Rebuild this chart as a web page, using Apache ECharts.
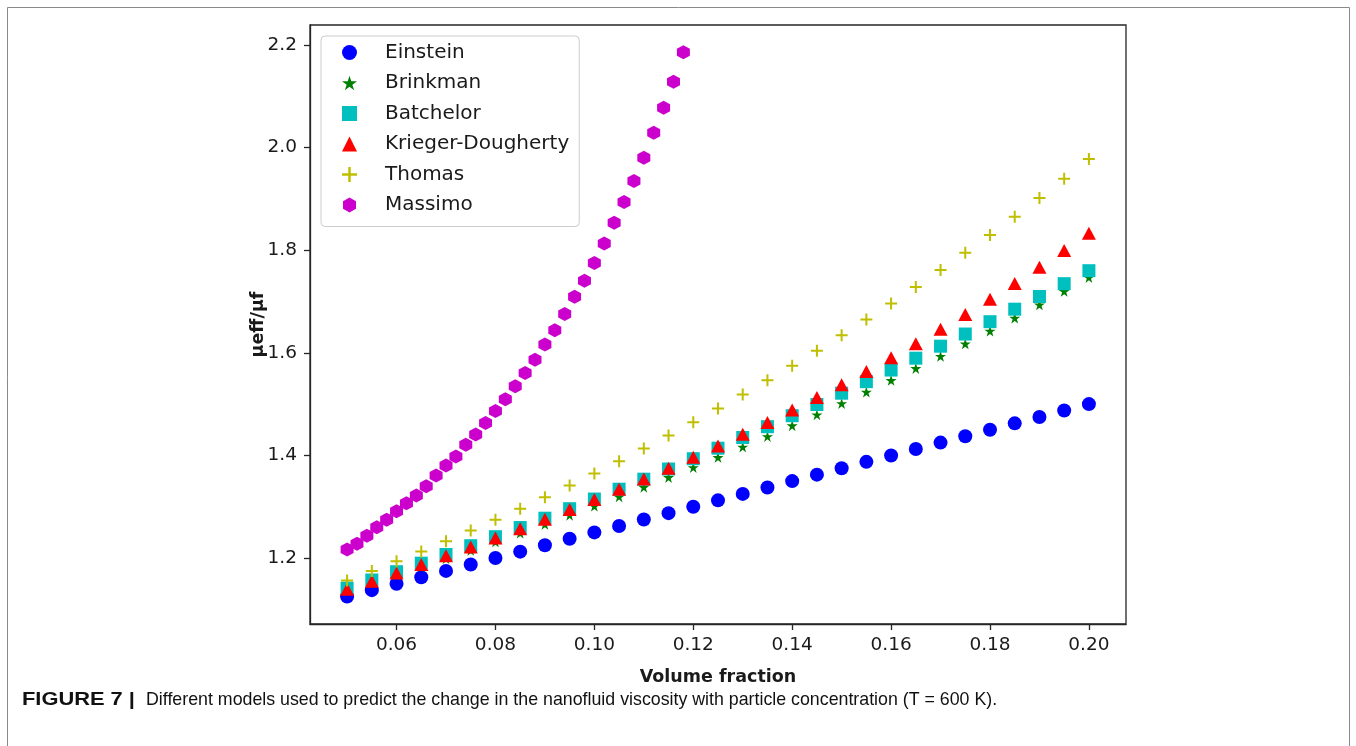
<!DOCTYPE html>
<html lang="en">
<head>
    <meta charset="UTF-8">
    <title>Nanofluid viscosity models</title>
    <script src="https://cdn.jsdelivr.net/npm/echarts@6.0.0/dist/echarts.min.js"></script>
    <style>
        html, body { margin: 0; padding: 0; background: #fff; }
        #main { width: 1356px; height: 746px; }
    </style>
</head>
<body>
    <div id="main"></div>
    <script type="text/javascript">
        // volume fraction (x) for most models, step 0.005
        const volumeFraction = [0.05, 0.055, 0.06, 0.065, 0.07, 0.075, 0.08, 0.085, 0.09, 0.095,
            0.10, 0.105, 0.11, 0.115, 0.12, 0.125, 0.13, 0.135, 0.14, 0.145,
            0.15, 0.155, 0.16, 0.165, 0.17, 0.175, 0.18, 0.185, 0.19, 0.195, 0.20];
        // Massimo is sampled more finely and stops early
        const massimoFraction = [0.050, 0.052, 0.054, 0.056, 0.058, 0.060, 0.062, 0.064, 0.066, 0.068,
            0.070, 0.072, 0.074, 0.076, 0.078, 0.080, 0.082, 0.084, 0.086, 0.088,
            0.090, 0.092, 0.094, 0.096, 0.098, 0.100, 0.102, 0.104, 0.106, 0.108,
            0.110, 0.112, 0.114, 0.116, 0.118];

        const einstein = [1.125, 1.1375, 1.15, 1.1625, 1.175, 1.1875, 1.2, 1.2125, 1.225, 1.2375,
            1.25, 1.2625, 1.275, 1.2875, 1.3, 1.3125, 1.325, 1.3375, 1.35, 1.3625,
            1.375, 1.3875, 1.4, 1.4125, 1.425, 1.4375, 1.45, 1.4625, 1.475, 1.4875, 1.5];
        const brinkman = [1.1368, 1.1519, 1.1673, 1.1830, 1.1989, 1.2152, 1.2318, 1.2487, 1.2659, 1.2835,
            1.3014, 1.3196, 1.3382, 1.3572, 1.3766, 1.3963, 1.4165, 1.4370, 1.4580, 1.4794,
            1.5013, 1.5236, 1.5463, 1.5696, 1.5933, 1.6176, 1.6424, 1.6677, 1.6935, 1.7200, 1.7469];
        const batchelor = [1.1413, 1.1572, 1.1734, 1.1900, 1.2069, 1.2241, 1.2416, 1.2595, 1.2777, 1.2962,
            1.3150, 1.3342, 1.3537, 1.3735, 1.3936, 1.4141, 1.4349, 1.4560, 1.4774, 1.4992,
            1.5213, 1.5437, 1.5664, 1.5895, 1.6129, 1.6366, 1.6606, 1.6850, 1.7097, 1.7347, 1.7600];
        const kriegerDougherty = [1.1393, 1.1550, 1.1711, 1.1875, 1.2043, 1.2215, 1.2391, 1.2571, 1.2756, 1.2946,
            1.3140, 1.3339, 1.3543, 1.3752, 1.3966, 1.4186, 1.4412, 1.4644, 1.4883, 1.5127,
            1.5379, 1.5637, 1.5903, 1.6176, 1.6458, 1.6747, 1.7045, 1.7352, 1.7668, 1.7993, 1.8329];
        const thomas = [1.1564, 1.1747, 1.1936, 1.2130, 1.2330, 1.2535, 1.2746, 1.2963, 1.3186, 1.3414,
            1.3649, 1.3889, 1.4136, 1.4388, 1.4647, 1.4913, 1.5185, 1.5463, 1.5749, 1.6041,
            1.6341, 1.6647, 1.6962, 1.7284, 1.7613, 1.7951, 1.8298, 1.8653, 1.9018, 1.9391, 1.9775];
        const massimo = [1.2166, 1.2277, 1.2433, 1.2601, 1.2745, 1.2913, 1.3069, 1.3220, 1.3401, 1.3610,
            1.3805, 1.3980, 1.4209, 1.4410, 1.4630, 1.4864, 1.5093, 1.5346, 1.5606, 1.5867,
            1.6160, 1.6439, 1.6757, 1.7093, 1.7405, 1.7752, 1.8131, 1.8533, 1.8937, 1.9346,
            1.9801, 2.0287, 2.0777, 2.1284, 2.1857];

        const xTicks = [0.06, 0.08, 0.10, 0.12, 0.14, 0.16, 0.18, 0.20];
        const yTicks = [1.2, 1.4, 1.6, 1.8, 2.0, 2.2];

        // marker shapes (matplotlib-like)
        const starPath = 'path://M0,-1L0.2245,-0.309L0.951,-0.309L0.3633,0.118L0.588,0.809L0,0.382L-0.588,0.809L-0.3633,0.118L-0.951,-0.309L-0.2245,-0.309Z';
        const plusPath = 'path://M-1,-6L1,-6L1,-1L6,-1L6,1L1,1L1,6L-1,6L-1,1L-6,1L-6,-1L-1,-1Z';
        const hexPath = 'path://M0,-1L0.866,-0.5L0.866,0.5L0,1L-0.866,0.5L-0.866,-0.5Z';

        function pairs(xs, ys) {
            return ys.map((y, i) => [xs[i], y]);
        }

        function scatter(name, xs, ys, symbol, size, color) {
            return {
                name: name,
                type: 'scatter',
                data: pairs(xs, ys),
                symbol: symbol,
                symbolSize: size,
                itemStyle: { color: color, opacity: 1 },
                emphasis: { disabled: true }
            };
        }

        const textColor = '#1a1a1a';
        const axisColor = '#262626';

        var chart = echarts.init(document.getElementById('main'));
        var option = {
            animation: false,
            backgroundColor: '#fff',
            grid: {
                left: 310, right: 230, top: 25, bottom: 122,
                show: true, borderColor: axisColor, borderWidth: 1.3,
                backgroundColor: '#fff'
            },
            legend: {
                orient: 'vertical',
                left: 321, top: 36,
                padding: [6.5, 10, 11.5, 21],
                itemWidth: 15, itemHeight: 15, itemGap: 10.5,
                backgroundColor: 'rgba(255,255,255,0.8)',
                borderColor: '#cccccc', borderWidth: 1, borderRadius: 4,
                textStyle: {
                    fontFamily: 'DejaVu Sans', fontSize: 20, color: textColor,
                    lineHeight: 20, padding: [0, 0, 0, 23]
                },
                selectedMode: false
            },
            xAxis: {
                type: 'value',
                min: 0.0425, max: 0.2075,
                name: 'Volume fraction',
                nameLocation: 'middle', nameGap: 44,
                nameTextStyle: { fontFamily: 'DejaVu Sans', fontWeight: 'bold', fontSize: 17.5, color: textColor },
                axisLine: { lineStyle: { color: axisColor, width: 1.3 } },
                axisTick: { show: true, length: 6, lineStyle: { color: axisColor, width: 1.3 }, customValues: xTicks },
                axisLabel: {
                    margin: 12, fontFamily: 'DejaVu Sans', fontSize: 18.5, color: textColor,
                    customValues: xTicks, formatter: (v) => v.toFixed(2)
                },
                splitLine: { show: false }
            },
            yAxis: {
                type: 'value',
                min: 1.0715, max: 2.2388,
                name: 'μeff/μf',
                nameLocation: 'middle', nameGap: 43, nameRotate: 90,
                nameMoveOverlap: false,
                nameTextStyle: { fontFamily: 'DejaVu Sans', fontWeight: 'bold', fontSize: 17.5, color: textColor },
                axisLine: { show: true, lineStyle: { color: axisColor, width: 1.3 } },
                axisTick: { show: true, length: 6, lineStyle: { color: axisColor, width: 1.3 }, customValues: yTicks },
                axisLabel: {
                    margin: 13, fontFamily: 'DejaVu Sans', fontSize: 18.5, color: textColor,
                    customValues: yTicks, formatter: (v) => v.toFixed(1)
                },
                splitLine: { show: false }
            },
            series: [
                scatter('Einstein', volumeFraction, einstein, 'circle', 14, '#0000ff'),
                scatter('Brinkman', volumeFraction, brinkman, starPath, 11, '#008000'),
                scatter('Batchelor', volumeFraction, batchelor, 'rect', 13, '#00bfbf'),
                scatter('Krieger-Dougherty', volumeFraction, kriegerDougherty, 'triangle', [14, 13], '#ff0000'),
                scatter('Thomas', volumeFraction, thomas, plusPath, 12, '#bfbf00'),
                scatter('Massimo', massimoFraction, massimo, hexPath, [13, 14], '#cc00cc')
            ],
            graphic: [
                {
                    type: 'rect', silent: true, z: -1,
                    shape: { x: 7.5, y: 7.5, width: 1342, height: 780 },
                    style: { fill: 'none', stroke: '#8a8a8a', lineWidth: 1 }
                },
                {
                    type: 'text', x: 22, y: 700, scaleX: 1.15,
                    style: {
                        text: 'FIGURE 7 |', verticalAlign: 'middle',
                        font: 'bold 19px "Liberation Sans"', fill: '#111'
                    }
                },
                {
                    type: 'text', x: 146, y: 700,
                    style: {
                        text: 'Different models used to predict the change in the nanofluid viscosity with particle concentration (T = 600 K).',
                        verticalAlign: 'middle',
                        font: '17.8px "Liberation Sans"', fill: '#111'
                    }
                }
            ]
        };
        chart.setOption(option);
    </script>
</body>
</html>
